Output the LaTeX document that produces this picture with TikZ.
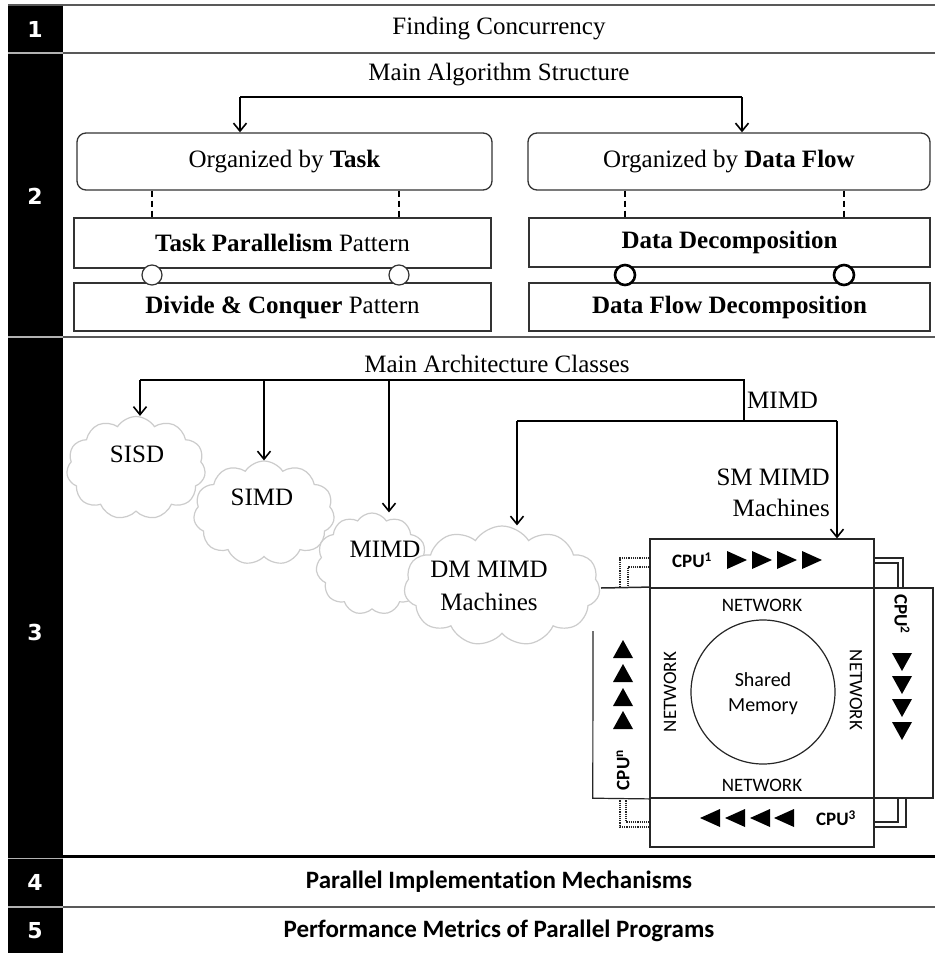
\documentclass[tikz,border=0pt]{standalone}
\usepackage{fontspec}
\setmainfont{Liberation Serif}
\newfontfamily\calfont[Ligatures=NoCommon]{Carlito}
\newfontfamily\numfont{DejaVu Sans}
\usetikzlibrary{shapes.symbols,arrows.meta}
\begin{document}
\begin{tikzpicture}[x=1pt,y=-1pt,
  ser/.style={font=\fontsize{25}{30}\selectfont, inner sep=0pt},
  sansbig/.style={font=\calfont\bfseries\fontsize{25}{30}\selectfont, inner sep=0pt},
  num/.style={font=\numfont\bfseries\fontsize{22}{26}\selectfont, text=white, inner sep=0pt},
  sep/.style={line width=1.6pt, draw=black!65},
  gap/.style={line width=1.3pt, draw=black!30},
  rbox/.style={draw=black!80, line width=1.3pt, rounded corners=9pt, inner sep=0pt, font=\fontsize{25}{30}\selectfont},
  sbox/.style={draw=black!80, line width=1.3pt, inner sep=0pt, font=\fontsize{25}{30}\selectfont},
  arr/.style={line width=1.6pt, -{Straight Barb[length=8pt,width=13pt]}},
  lnk/.style={line width=1.6pt},
  dsh/.style={line width=2pt, dash pattern=on 6pt off 4pt},
  ring/.style={circle, draw=black!80, fill=white, minimum size=20pt, inner sep=0pt, line width=1.2pt},
  ringb/.style={ring, line width=2.6pt, draw=black},
  cld/.style={cloud, cloud puffs=11, cloud puff arc=115, cloud ignores aspect, draw=black!20, line width=1.2pt, fill=white, inner sep=0pt},
  cpubox/.style={draw=black!85, line width=1.2pt, inner sep=0pt},
  cpu/.style={font=\calfont\bfseries\fontsize{19}{22}\selectfont, inner sep=0pt},
  net/.style={font=\calfont\fontsize{19}{22}\selectfont, inner sep=0pt},
  dbl/.style={line width=1.2pt, draw=black!85},
  dotc/.style={line width=1.2pt, densely dotted, draw=black!85},
]
\useasboundingbox (0,0) rectangle (935,953);
\fill[white] (0,0) rectangle (935,953);

% black number column
\fill[black] (8,5) rectangle (63,953);
% separators
\draw[sep] (8,5) -- (935,5);
\draw[sep] (63,53) -- (935,53);
\draw[sep] (63,337) -- (935,337);
\draw[line width=3pt, black] (8,856) -- (935,856);
\draw[sep] (63,907) -- (935,907);
\draw[gap] (8,53) -- (63,53);
\draw[gap] (8,337) -- (63,337);
\draw[gap] (8,858.5) -- (63,858.5);
\draw[gap] (8,907) -- (63,907);

% row numbers
\node[num] (n1) at (35,29) {1};
\node[num] (n2) at (35,196) {2};
\node[num] (n3) at (35,632) {3};
\node[num] (n4) at (35,882) {4};
\node[num] (n5) at (35,931) {5};

% row 1
\node[ser] (t1) at (499,29) {Finding Concurrency};

% row 2
\node[ser] (t2) at (499,75) {Main Algorithm Structure};
\node[rbox, minimum width=415pt, minimum height=57pt] (org1) at (284.5,161.5) {Organized by \textbf{Task}};
\node[rbox, minimum width=402pt, minimum height=57pt] (org2) at (729,161.5) {Organized by \textbf{Data Flow}};
\node[sbox, minimum width=417pt, minimum height=50pt] (tp) at (282.5,243) {\textbf{Task Parallelism} Pattern};
\node[sbox, minimum width=417pt, minimum height=48pt] (dc) at (282.5,307) {\textbf{Divide \& Conquer} Pattern};
\node[sbox, minimum width=401pt, minimum height=49pt] (dd) at (729.5,242.5) {\textbf{Data Decomposition}};
\node[sbox, minimum width=401pt, minimum height=48pt] (dfd) at (729.5,307) {\textbf{Data Flow Decomposition}};

\coordinate (b1) at (240,97);
\coordinate (b2) at (742,97);
\draw[lnk] (b1) -- (b2);
\draw[arr] (b1) -- (b1 |- org1.north);
\draw[arr] (b2) -- (b2 |- org2.north);

\node[ring] (lc1) at (152,275) {};
\node[ring] (lc2) at (399,275) {};
\node[ringb] (rc1) at (625,275) {};
\node[ringb] (rc2) at (844,275) {};
\draw[dsh] (org1.south -| lc1) -- (tp.north -| lc1);
\draw[dsh] (org1.south -| lc2) -- (tp.north -| lc2);
\draw[dsh] (org2.south -| rc1) -- (dd.north -| rc1);
\draw[dsh] (org2.south -| rc2) -- (dd.north -| rc2);

% row 3
\node[ser] (t3) at (497,364) {Main Architecture Classes};

% clouds
\node[cld, minimum width=139pt, minimum height=103pt] (c1) at (136,468) {};
\node[cld, minimum width=141pt, minimum height=104pt] (c2) at (264,513) {};
\node[cld, minimum width=112pt, minimum height=102pt] (c3) at (372,564) {};
\node[cld, minimum width=196pt, minimum height=120pt] (c4) at (502,586) {};
\node[ser] (l1) at (137,454) {SISD};
\node[ser] (l2) at (262,497) {SIMD};
\node[ser] (l3) at (385,549) {MIMD};
\node[ser, align=center, font=\fontsize{25}{33}\selectfont] (l4) at (489,586) {DM MIMD\\Machines};

% CPU assembly
\node[cpubox, minimum width=224pt, minimum height=49pt] (cpu1) at (762,563.5) {};
\node[cpubox, line width=1.8pt, minimum width=224pt, minimum height=210pt] (netb) at (762,693) {};
\node[cpubox, minimum width=59pt, minimum height=210pt] (cpu2) at (903.5,693) {};
\node[cpubox, minimum width=224pt, minimum height=49pt] (cpu3) at (762,822.5) {};
\node[inner sep=0pt, minimum width=57pt, minimum height=210pt] (cpun) at (621.5,693) {};
\draw[line width=1.5pt, black!85] (601,588) -- (netb.north west);
\draw[line width=1.2pt, black!85] (593,631) -- (cpun.south west) -- (netb.south west);

\node[draw=black!85, line width=1.2pt, circle, minimum size=144pt, inner sep=0pt] (mem) at (763,692) {};
\node[net, align=center, font=\calfont\fontsize{20}{25}\selectfont] (memt) at (763,694) {Shared\\Memory};
\node[net] (nt) at (762,605) {NETWORK};
\node[net] (nb) at (762,785) {NETWORK};
\node[net, rotate=90] (nl) at (670,692) {NETWORK};
\node[net, rotate=-90] (nr) at (856,690) {NETWORK};

\node[cpu] (cp1) at (692,560) {CPU\textsuperscript{1}};
\node[cpu, rotate=-90] (cp2) at (902,614) {CPU\textsuperscript{2}};
\node[cpu] (cp3) at (836,818) {CPU\textsuperscript{3}};
\node[cpu, rotate=90] (cpn) at (623,770) {CPU\textsuperscript{n}};

\foreach \cx in {737,762,787,812} \fill (\cx-10,551) -- (\cx+10,560) -- (\cx-10,569) -- cycle;
\foreach \cy in {662,685,708,731} \fill (892,\cy-9) -- (912,\cy-9) -- (902,\cy+9) -- cycle;
\foreach \cx in {710,735,760,784} \fill (\cx+10,809) -- (\cx-10,818) -- (\cx+10,827) -- cycle;
\foreach \cy in {649,673,697,720} \fill (613,\cy+9) -- (633,\cy+9) -- (623,\cy-9) -- cycle;

% connectors between CPUs
\draw[dotc] ([yshift=5.5pt]cpu1.west) -| ([xshift=-1.5pt]cpun.north);
\draw[dotc] ([yshift=-3.5pt]cpu1.west) -| ([xshift=6.5pt]cpun.north);
\draw[dotc] ([xshift=-1.5pt]cpun.south) |- ([yshift=-4.5pt]cpu3.west);
\draw[dotc] ([xshift=4.5pt]cpun.south) |- ([yshift=0.5pt]cpu3.west);
\draw[dbl] ([yshift=5.5pt]cpu1.east) -| ([xshift=-0.5pt]cpu2.north);
\draw[dbl] ([yshift=0.5pt]cpu1.east) -| ([xshift=-5.5pt]cpu2.north);
\draw[dbl] ([xshift=2.5pt]cpu2.south) |- ([yshift=-4.5pt]cpu3.east);
\draw[dbl] ([xshift=-5.5pt]cpu2.south) |- ([yshift=0.5pt]cpu3.east);

% architecture arrows
\coordinate (a0) at (140,380);
\coordinate (a1) at (744,380);
\coordinate (a2) at (744,421);
\coordinate (a3) at (517,421);
\coordinate (a4) at (837,421);
\coordinate (a5) at (264,380);
\coordinate (a6) at (389,380);
\draw[lnk] (a0) -- (a1) -- (a2);
\draw[lnk] (a3) -- (a4);
\draw[arr] (a0) -- (a0 |- c1.north);
\draw[arr] (a5) -- (a5 |- c2.north);
\draw[arr] (a6) -- (a6 |- c3.north);
\draw[arr] (a3) -- (a3 |- c4.north);
\draw[arr] (a4) -- (a4 |- cpu1.north);
\node[ser, anchor=west] (mimdl) at (747,400) {MIMD};
\node[ser, anchor=east, align=right, font=\fontsize{25}{31}\selectfont] (sml) at (830,492.5) {SM MIMD\\Machines};

% rows 4 and 5
\node[sansbig] (t4) at (499,882) {Parallel Implementation Mechanisms};
\node[sansbig] (t5) at (499,931) {Performance Metrics of Parallel Programs};
\end{tikzpicture}
\end{document}
